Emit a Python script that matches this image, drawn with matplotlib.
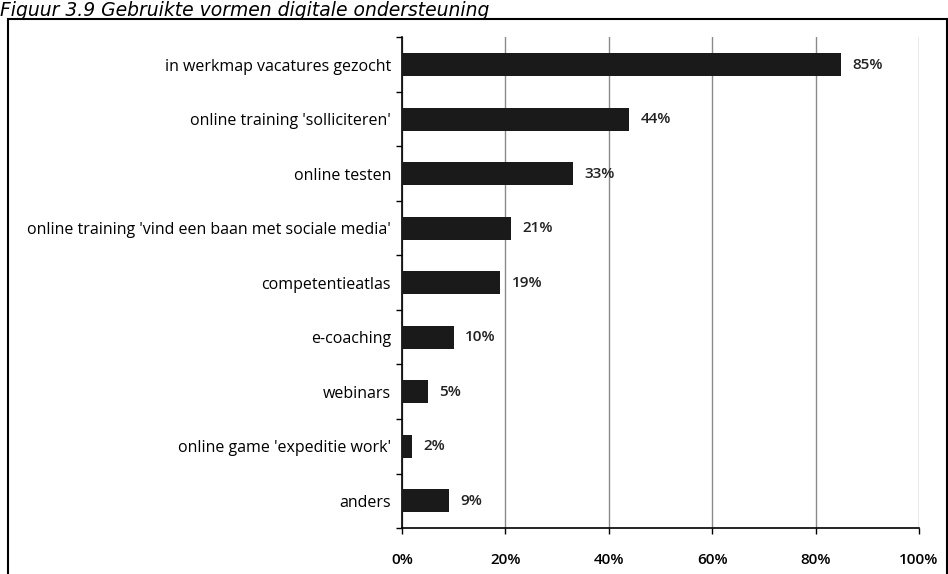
import matplotlib
matplotlib.use('Agg')
import matplotlib.pyplot as plt
from matplotlib.patches import Rectangle
import numpy as np

plt.rcParams['font.family'] = ['Open Sans', 'DejaVu Sans']

categories = ["in werkmap vacatures gezocht",
              "online training 'solliciteren'",
              "online testen",
              "online training 'vind een baan met sociale media'",
              "competentieatlas",
              "e-coaching",
              "webinars",
              "online game 'expeditie work'",
              "anders"]
values = [85, 44, 33, 21, 19, 10, 5, 2, 9]
xticks = [0, 20, 40, 60, 80, 100]
title = "Figuur 3.9 Gebruikte vormen digitale ondersteuning"

fig = plt.figure(figsize=(9.48, 5.74), dpi=100)
ax = fig.add_axes([402 / 948, 0.080, 517 / 948, 0.855])

y = np.arange(len(categories))
ax.barh(y, values, height=0.42, color='#1a1a1a', zorder=3)
for yi, v in zip(y, values):
    ax.text(v + 2.2, yi, f"{v}%", va='center', ha='left', fontsize=11,
            fontweight='semibold', color='#222222')

ax.set_xlim(0, 100)
ax.set_ylim(len(categories) - 0.5, -0.5)
ax.set_xticks(xticks)
ax.set_xticklabels([f"{t}%" for t in xticks], fontsize=11, fontweight='semibold')
ax.set_yticks(y)
ax.set_yticklabels(categories, fontsize=11.5)
ax.set_yticks(np.arange(-0.5, len(categories), 1), minor=True)
ax.tick_params(axis='y', which='major', length=0, pad=8)
ax.tick_params(axis='y', which='minor', length=4, width=1)
ax.tick_params(axis='x', length=4, width=1, pad=14)
ax.xaxis.grid(True, color='#8a8a8a', linewidth=1, zorder=0)
ax.spines['top'].set_visible(False)
ax.spines['right'].set_visible(False)
ax.spines['left'].set_linewidth(1.2)
ax.spines['bottom'].set_linewidth(1.2)

# outer frame
fig.patches.append(Rectangle((8 / 948, -0.01), 939 / 948, 1 - 19 / 574 + 0.01,
                             transform=fig.transFigure, fill=False,
                             edgecolor='black', linewidth=1.5))
fig.text(0.0, 0.999, title, fontsize=13.5, style='italic', va='top', ha='left',
         family='DejaVu Sans')

fig.savefig('out.png', dpi=100)
